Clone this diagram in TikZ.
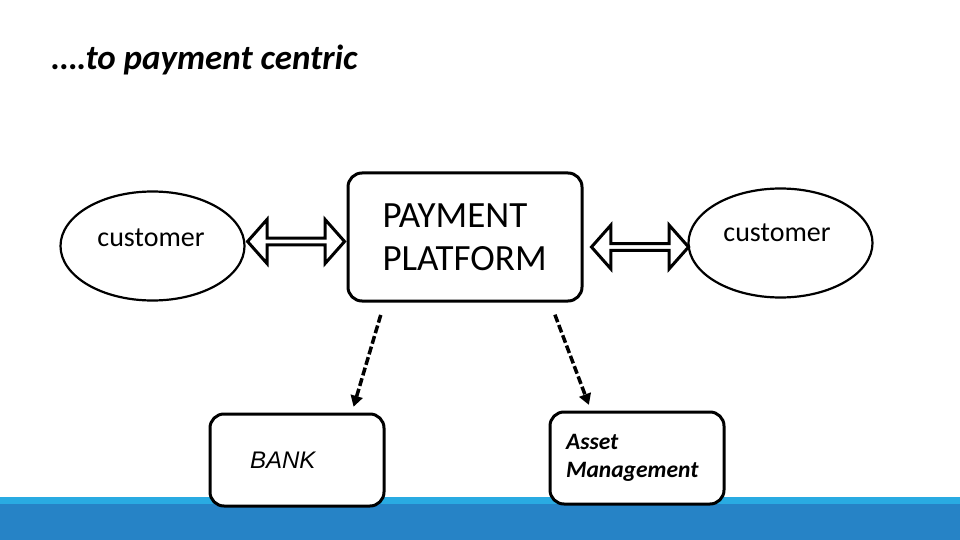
\documentclass[tikz,border=0pt]{standalone}
\usepackage{fontspec}
\setmainfont{Carlito}
\newfontfamily\arialfont{Liberation Sans}
\usetikzlibrary{calc,shapes.geometric,shapes.arrows,arrows.meta}
\definecolor{barlight}{HTML}{29ABE2}
\definecolor{bardark}{HTML}{2683C6}
\newcommand{\linecolor}{black}
\newcommand{\boxthick}{3pt}
\newcommand{\ovalthick}{2.2pt}

\begin{document}
\begin{tikzpicture}[x=1pt,y=-1pt,
  oval/.style={draw=\linecolor, line width=\ovalthick, ellipse, inner sep=0,
    minimum width=184pt, minimum height=109pt},
  ovaltext/.style={inner sep=0, font=\fontsize{28}{32}\selectfont},
  roundbox/.style={draw=\linecolor, line width=\boxthick, fill=white, rounded corners=14pt,
    inner sep=0, align=left},
  blockarrow/.style={draw=\linecolor, line width=\boxthick, fill=white, double arrow, inner sep=0,
    minimum height=97pt, minimum width=44pt, double arrow head extend=8pt, double arrow tip angle=97},
  dashlink/.style={draw=\linecolor, line width=3.5pt, dash pattern=on 8pt off 3pt,
    -{Triangle[length=11pt,width=12pt]}, shorten <=13pt, shorten >=6pt}]
\useasboundingbox (0,0) rectangle (960,540);
% bar at the bottom
\fill[barlight] (0,497) rectangle (960,540);
\fill[bardark] (0,504) rectangle (960,540);
% title
\node[anchor=base west, inner sep=0, font=\fontsize{35}{40}\selectfont\bfseries\itshape] (title) at (52,70) {….to payment centric};
% customers and platform
\node[oval] (cl) at (152.5,246) {};
\node[ovaltext] (clt) at (151,238) {customer};
\node[oval] (cr) at (780.5,243) {};
\node[ovaltext] (crt) at (777,233) {customer};
\node[roundbox, minimum width=234pt, minimum height=128pt, text width=165pt,
  font=\fontsize{37}{43}\selectfont] (pp) at (465,237) {PAYMENT\\PLATFORM};
\node[blockarrow] (al) at ($(cl.east)!0.5!(pp.west)$) {};
\node[blockarrow] (ar) at (640,247) {};
% bank and asset management
\node[roundbox, minimum width=174pt, minimum height=92pt, text width=94pt,
  font=\arialfont\fontsize{24}{28}\selectfont\itshape] (bank) at (297,460) {BANK};
\node[roundbox, minimum width=174pt, minimum height=92pt, text width=142pt,
  font=\fontsize{23.5}{28}\selectfont\bfseries\itshape] (am) at (637,458) {Asset\\Management};
\draw[dashlink] ($(pp.south west)!0.16!(pp.south east)$) -- ($(bank.north west)!0.81!(bank.north east)$);
\draw[dashlink] ($(pp.south west)!0.86!(pp.south east)$) -- ($(am.north west)!0.24!(am.north east)$);
\end{tikzpicture}
\end{document}
